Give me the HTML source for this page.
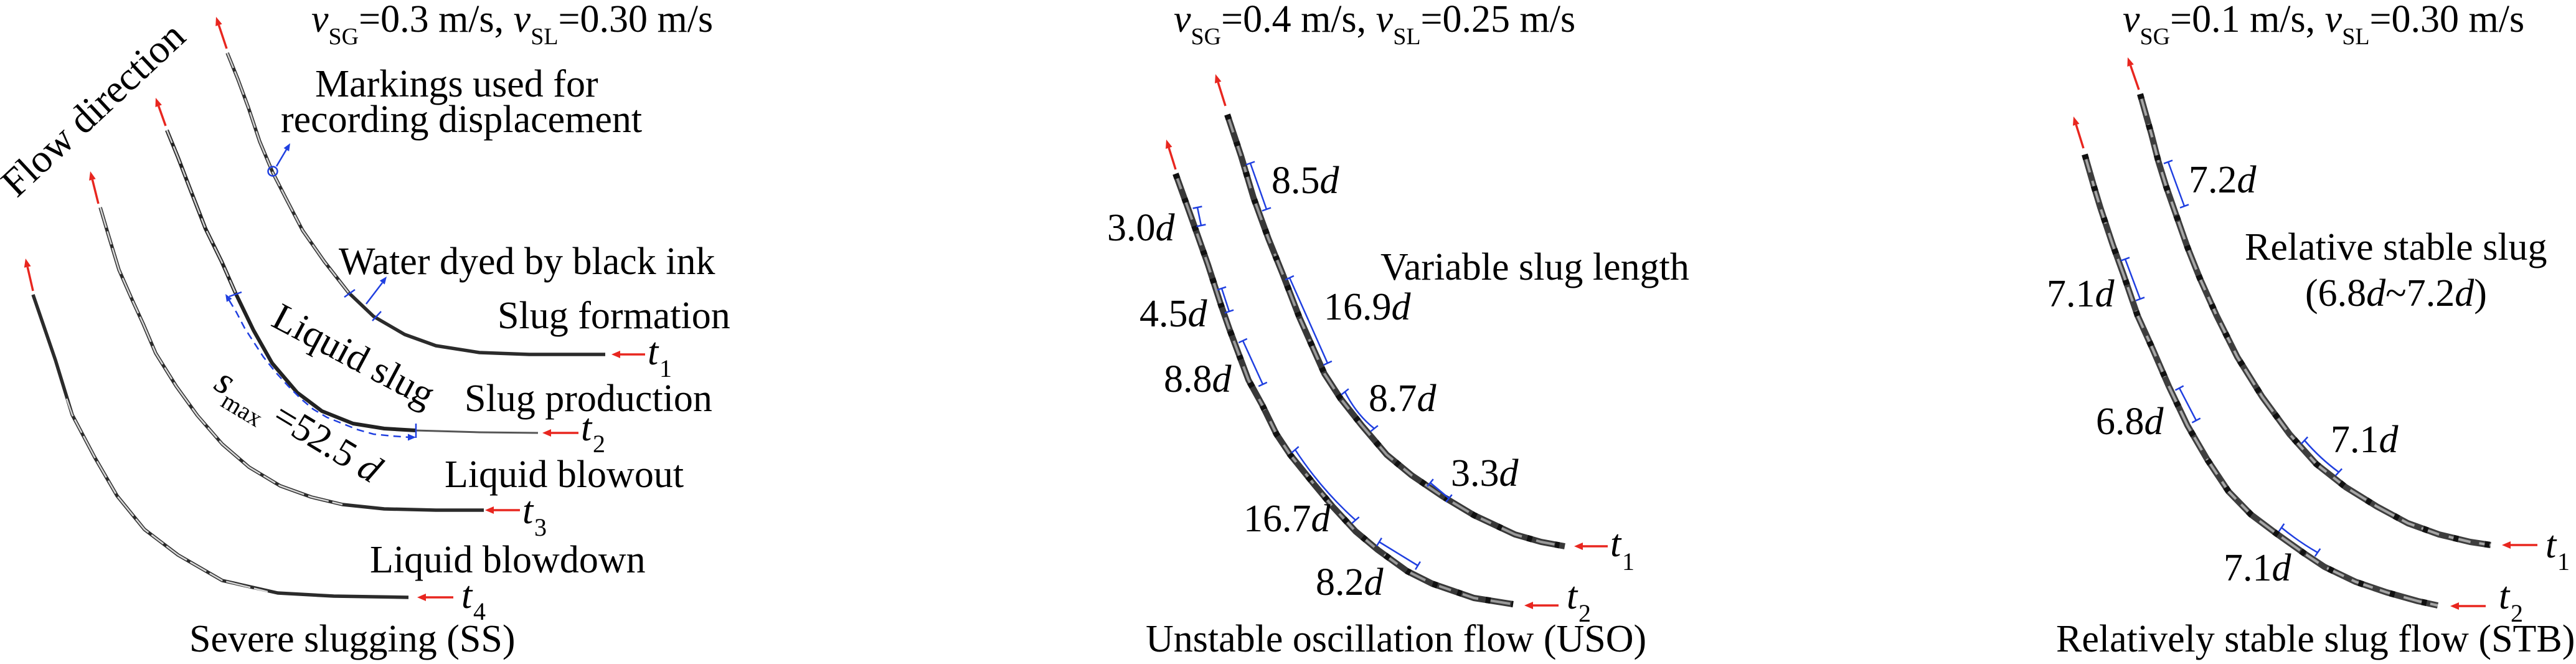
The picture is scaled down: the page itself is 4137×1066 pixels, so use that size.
<!DOCTYPE html>
<html><head><meta charset="utf-8"><style>
html,body{margin:0;padding:0;background:#fff;}
svg{display:block;}
text{font-family:"Liberation Serif","Times New Roman",serif;fill:#000;}
</style></head><body>
<svg width="4137" height="1066" viewBox="0 0 4137 1066" xmlns="http://www.w3.org/2000/svg">
<rect width="4137" height="1066" fill="#fff"/>

<!-- ===================== LEFT PANEL ===================== -->
<g fill="none" stroke-linejoin="round">
  <!-- L1 -->
  <polyline points="365,85 382,127 399,173 417,227 438,277 460,320 486,370 521,420 560,470 600,508 650,537 700,555 770,566 850,569 972,569" stroke="#2b2b2b" stroke-width="5.5"/>
  <polyline points="365,85 382,127 399,173 417,227 438,277 460,320 486,370 521,420 560,470" stroke="#d0d0d0" stroke-width="2.6" stroke-dasharray="26 6 40 6 18 6"/>
  <!-- L2 -->
  <polyline points="268,209 286,253 304,300 330,367 356,420 378,470 407,530 437,583 477,630 517,660 567,680 617,688 667,691" stroke="#222" stroke-width="6"/>
  <polyline points="667,691 770,694 864,695" stroke="#555" stroke-width="3"/>
  <polyline points="268,209 286,253 304,300 330,367 356,420 378,470" stroke="#cfcfcf" stroke-width="2.6" stroke-dasharray="22 6 30 7 16 6"/>
  <!-- L3 -->
  <polyline points="161,333 174,377 191,433 213,483 230,520 250,567 283,620 317,667 357,713 400,750 450,780 500,798 550,810 617,817 700,819 777,819" stroke="#2b2b2b" stroke-width="5.5"/>
  <polyline points="161,333 174,377 191,433 213,483 230,520 250,567 283,620 317,667 357,713 400,750 450,780 500,798 550,810" stroke="#d6d6d6" stroke-width="2.6" stroke-dasharray="34 6 22 6 44 7"/>
  <!-- L4 -->
  <polyline points="53,473 89,578 116,666 152,734 188,796 232,850 286,891 357,932 446,952 536,957 656,959" stroke="#2b2b2b" stroke-width="5.5"/>
  <polyline points="107,640 116,666 152,734 188,796 232,850 286,891 357,932 430,950" stroke="#d4d4d4" stroke-width="2.6" stroke-dasharray="30 6 24 6 40 6"/>
</g>

<!-- left red arrows -->
<g stroke="#e8261f" stroke-width="3.5" fill="none">
  <line x1="364" y1="78" x2="351.4" y2="40.3"/>
  <line x1="266" y1="202" x2="254.7" y2="170.2"/>
  <line x1="158" y1="327" x2="148.4" y2="288.6"/>
  <line x1="53" y1="467" x2="44.2" y2="428.6"/>
  <line x1="996" y1="569" x2="1036" y2="569"/>
  <line x1="885" y1="695" x2="929" y2="695"/>
  <line x1="793" y1="819" x2="835" y2="819"/>
  <line x1="684" y1="959" x2="728" y2="959"/>
</g>
<g fill="#e8261f">
  <polygon points="347,27 356.6,38.6 346.2,42"/>
  <polygon points="250,157 259.9,168.4 249.5,172"/>
  <polygon points="145,275 153.7,287.3 143.1,289.9"/>
  <polygon points="41,415 49.6,427.4 38.8,429.8"/>
  <polygon points="982,569 996,563 996,575"/>
  <polygon points="871,695 885,689 885,701"/>
  <polygon points="779,819 793,813 793,825"/>
  <polygon points="670,959 684,953 684,965"/>
</g>

<!-- left blue annotations -->
<g stroke="#1f3fe0" fill="none" stroke-width="2.5">
  <circle cx="438" cy="275" r="7.5"/>
  <line x1="444" y1="267" x2="460" y2="240"/>
  <line x1="553" y1="477" x2="570" y2="465"/>
  <line x1="598" y1="515" x2="612" y2="500"/>
  <line x1="588" y1="488" x2="614" y2="454"/>
  <line x1="368" y1="476" x2="388" y2="469"/>
  <line x1="668" y1="680" x2="668" y2="703"/>
  <polyline points="368,482 380,502 393,527 408,550 423,573 443,598 463,620 483,640 503,657 525,670 550,680 575,690 600,697 630,700 657,702" stroke-dasharray="12 8"/>
</g>
<g fill="#1f3fe0">
  <polygon points="466,230 464.2,242.9 455.6,237.8"/>
  <polygon points="621,444 617.8,456.6 609.8,450.6"/>
  <polygon points="362,472 372.5,479.6 364,484.8"/>
  <polygon points="668,702 655,696.5 655,707.5"/>
</g>

<!-- left texts -->
<text x="500" y="51" font-size="62"><tspan font-style="italic">v</tspan><tspan font-size="38" dy="20">SG</tspan><tspan dy="-20">=0.3 m/s, </tspan><tspan font-style="italic">v</tspan><tspan font-size="38" dy="20">SL</tspan><tspan dy="-20">=0.30 m/s</tspan></text>
<text transform="translate(164,191) rotate(-43)" text-anchor="middle" font-size="64">Flow direction</text>
<text x="506" y="155" font-size="62">Markings used for</text>
<text x="451" y="212" font-size="62">recording displacement</text>
<text x="544" y="440" font-size="62">Water dyed by black ink</text>
<text x="799" y="527" font-size="62">Slug formation</text>
<text transform="translate(433,522) rotate(28)" font-size="62">Liquid slug</text>
<text transform="translate(341,623) rotate(31)" font-size="62"><tspan font-style="italic">s</tspan><tspan font-size="40" dy="18">max</tspan><tspan dy="-18"> =52.5 </tspan><tspan font-style="italic">d</tspan></text>
<text x="746" y="660" font-size="62">Slug production</text>
<text x="714" y="782" font-size="62">Liquid blowout</text>
<text x="594" y="919" font-size="62">Liquid blowdown</text>
<text x="304" y="1046" font-size="62">Severe slugging (SS)</text>
<text x="1040" y="585" font-size="62" font-style="italic">t</text><text x="1059" y="605" font-size="40">1</text>
<text x="933" y="707" font-size="62" font-style="italic">t</text><text x="952" y="726" font-size="40">2</text>
<text x="839" y="840" font-size="62" font-style="italic">t</text><text x="858" y="860" font-size="40">3</text>
<text x="741" y="976" font-size="62" font-style="italic">t</text><text x="760" y="995" font-size="40">4</text>

<!-- ===================== MIDDLE PANEL ===================== -->
<g fill="none" stroke-linejoin="round">
  <polyline points="1971,184 1993,250 2013,317 2037,383 2060,440 2087,510 2107,555 2127,600 2153,640 2187,683 2227,730 2267,763 2317,797 2367,827 2433,858 2475,870 2513,877" stroke="#383838" stroke-width="10"/>
  <polyline points="1971,184 1993,250 2013,317 2037,383 2060,440 2087,510 2107,555 2127,600 2153,640 2187,683 2227,730 2267,763 2317,797 2367,827 2433,858 2475,870 2513,877" stroke="#9a9a9a" stroke-width="4" stroke-dasharray="30 22 18 18 36 24"/>
  <polyline points="1971,184 1993,250 2013,317 2037,383 2060,440 2087,510 2107,555 2127,600 2153,640 2187,683 2227,730 2267,763 2317,797 2367,827 2433,858 2475,870 2513,877" stroke="#111" stroke-width="10" stroke-dasharray="8 38 7 44"/>

  <polyline points="1888,279 1915,354 1940,425 1961,490 1975,530 1990,570 2005,610 2027,650 2050,697 2072,730 2110,777 2140,813 2177,853 2213,883 2260,917 2300,937 2367,960 2430,970" stroke="#383838" stroke-width="10"/>
  <polyline points="1888,279 1915,354 1940,425 1961,490 1975,530 1990,570 2005,610 2027,650 2050,697 2072,730 2110,777 2140,813 2177,853 2213,883 2260,917 2300,937 2367,960 2430,970" stroke="#9a9a9a" stroke-width="4" stroke-dasharray="26 18 34 24 20 20"/>
  <polyline points="1888,279 1915,354 1940,425 1961,490 1975,530 1990,570 2005,610 2027,650 2050,697 2072,730 2110,777 2140,813 2177,853 2213,883 2260,917 2300,937 2367,960 2430,970" stroke="#111" stroke-width="10" stroke-dasharray="8 34 7 40"/>
</g>
<g stroke="#e8261f" stroke-width="3.5" fill="none">
  <line x1="1968" y1="170" x2="1956.2" y2="132.3"/>
  <line x1="1888" y1="272" x2="1877.2" y2="237.4"/>
  <line x1="2542" y1="877" x2="2582" y2="877"/>
  <line x1="2462" y1="972" x2="2503" y2="972"/>
</g>
<g fill="#e8261f">
  <polygon points="1952,119 1961.4,130.7 1951,133.9"/>
  <polygon points="1873,224 1882.4,235.8 1872,239"/>
  <polygon points="2528,877 2542,871 2542,883"/>
  <polygon points="2448,972 2462,966 2462,978"/>
</g>
<g stroke="#1f3fe0" fill="none" stroke-width="2.5">
  <line x1="2008" y1="262" x2="2034" y2="336"/><line x1="2000.9" y1="264.5" x2="2015.1" y2="259.5"/><line x1="2026.9" y1="338.5" x2="2041.1" y2="333.5"/>
  <line x1="1923" y1="333" x2="1929" y2="362"/><line x1="1915.6" y1="334.5" x2="1930.4" y2="331.5"/><line x1="1921.6" y1="363.5" x2="1936.4" y2="360.5"/>
  <line x1="1962" y1="463" x2="1974" y2="500"/><line x1="1954.9" y1="465.3" x2="1969.1" y2="460.7"/><line x1="1966.9" y1="502.3" x2="1981.1" y2="497.7"/>
  <line x1="2071" y1="446" x2="2132" y2="583"/><line x1="2064.2" y1="449.1" x2="2077.9" y2="442.9"/><line x1="2125.2" y1="586.1" x2="2138.9" y2="579.9"/>
  <line x1="1996" y1="547" x2="2028" y2="617"/><line x1="1989.2" y1="550.1" x2="2002.8" y2="543.9"/><line x1="2021.2" y1="620.1" x2="2034.8" y2="613.9"/>
  <path d="M2160,629 Q2178,665 2207,688"/><line x1="2154.1" y1="633.7" x2="2165.9" y2="624.3"/><line x1="2201.1" y1="692.7" x2="2212.9" y2="683.3"/>
  <line x1="2297" y1="775" x2="2327" y2="800"/><line x1="2292.2" y1="780.8" x2="2301.8" y2="769.2"/><line x1="2322.2" y1="805.8" x2="2331.8" y2="794.2"/>
  <path d="M2080,722 Q2122,786 2177,835"/><line x1="2074.3" y1="726.9" x2="2085.7" y2="717.1"/><line x1="2171.3" y1="839.9" x2="2182.7" y2="830.1"/>
  <line x1="2215" y1="870" x2="2277" y2="908"/><line x1="2211.1" y1="876.4" x2="2218.9" y2="863.6"/><line x1="2273.1" y1="914.4" x2="2280.9" y2="901.6"/>
</g>
<text x="1885" y="51" font-size="62"><tspan font-style="italic">v</tspan><tspan font-size="38" dy="20">SG</tspan><tspan dy="-20">=0.4 m/s, </tspan><tspan font-style="italic">v</tspan><tspan font-size="38" dy="20">SL</tspan><tspan dy="-20">=0.25 m/s</tspan></text>
<g font-size="62">
<text x="2042" y="310">8.5<tspan font-style="italic">d</tspan></text>
<text x="1778" y="386">3.0<tspan font-style="italic">d</tspan></text>
<text x="2217" y="449">Variable slug length</text>
<text x="2126" y="513">16.9<tspan font-style="italic">d</tspan></text>
<text x="1830" y="524">4.5<tspan font-style="italic">d</tspan></text>
<text x="1869" y="629">8.8<tspan font-style="italic">d</tspan></text>
<text x="2198" y="660">8.7<tspan font-style="italic">d</tspan></text>
<text x="2330" y="780">3.3<tspan font-style="italic">d</tspan></text>
<text x="1997" y="853">16.7<tspan font-style="italic">d</tspan></text>
<text x="2113" y="955">8.2<tspan font-style="italic">d</tspan></text>
<text x="1840" y="1046">Unstable oscillation flow (USO)</text>
</g>
<text x="2586" y="893" font-size="62" font-style="italic">t</text><text x="2605" y="915" font-size="40">1</text>
<text x="2516" y="977" font-size="62" font-style="italic">t</text><text x="2535" y="998" font-size="40">2</text>

<!-- ===================== RIGHT PANEL ===================== -->
<g fill="none" stroke-linejoin="round">
  <polyline points="3437,151 3455,215 3466,258 3479,300 3493,340 3513,397 3533,447 3560,507 3593,573 3633,637 3677,697 3720,745 3767,782 3817,813 3867,840 3917,858 3967,870 4000,875" stroke="#3e3e3e" stroke-width="10"/>
  <polyline points="3437,151 3455,215 3466,258 3479,300 3493,340 3513,397 3533,447 3560,507 3593,573 3633,637 3677,697 3720,745 3767,782 3817,813 3867,840 3917,858 3967,870 4000,875" stroke="#a6a6a6" stroke-width="4" stroke-dasharray="36 14 22 12 30 16"/>
  <polyline points="3437,151 3455,215 3466,258 3479,300 3493,340 3513,397 3533,447 3560,507 3593,573 3633,637 3677,697 3720,745 3767,782 3817,813 3867,840 3917,858 3967,870 4000,875" stroke="#111" stroke-width="10" stroke-dasharray="8 43"/>

  <polyline points="3348,248 3363,300 3373,333 3393,393 3410,440 3433,507 3457,560 3483,620 3513,683 3545,738 3579,789 3615,826 3655,856 3700,888 3733,910 3783,934 3833,951 3883,965 3915,972" stroke="#3e3e3e" stroke-width="10"/>
  <polyline points="3348,248 3363,300 3373,333 3393,393 3410,440 3433,507 3457,560 3483,620 3513,683 3545,738 3579,789 3615,826 3655,856 3700,888 3733,910 3783,934 3833,951 3883,965 3915,972" stroke="#a6a6a6" stroke-width="4" stroke-dasharray="30 14 36 12 24 16"/>
  <polyline points="3348,248 3363,300 3373,333 3393,393 3410,440 3433,507 3457,560 3483,620 3513,683 3545,738 3579,789 3615,826 3655,856 3700,888 3733,910 3783,934 3833,951 3883,965 3915,972" stroke="#111" stroke-width="10" stroke-dasharray="8 45"/>
</g>
<g stroke="#e8261f" stroke-width="3.5" fill="none">
  <line x1="3435" y1="144" x2="3421.6" y2="105.2"/>
  <line x1="3346" y1="238" x2="3334.2" y2="200.3"/>
  <line x1="4032" y1="875" x2="4075" y2="875"/>
  <line x1="3949" y1="973" x2="3992" y2="973"/>
</g>
<g fill="#e8261f">
  <polygon points="3417,92 3426.8,103.4 3416.4,107"/>
  <polygon points="3330,187 3339.4,198.7 3329,201.9"/>
  <polygon points="4018,875 4032,869 4032,881"/>
  <polygon points="3935,973 3949,967 3949,979"/>
</g>
<g stroke="#1f3fe0" fill="none" stroke-width="2.5">
  <line x1="3482" y1="260" x2="3508" y2="331"/><line x1="3475" y1="262.6" x2="3489" y2="257.4"/><line x1="3501" y1="333.6" x2="3515" y2="328.4"/>
  <line x1="3413" y1="416" x2="3437" y2="480"/><line x1="3406" y1="418.6" x2="3420" y2="413.4"/><line x1="3430" y1="482.6" x2="3444" y2="477.4"/>
  <line x1="3500" y1="623" x2="3527" y2="675"/><line x1="3493.4" y1="626.5" x2="3506.7" y2="619.5"/><line x1="3520.4" y1="678.5" x2="3533.7" y2="671.5"/>
  <path d="M3701,707 Q3726,736 3756,758"/><line x1="3695.9" y1="712.5" x2="3706.1" y2="701.5"/><line x1="3750.9" y1="763.5" x2="3761.1" y2="752.5"/>
  <path d="M3664,847 Q3692,870 3722,887"/><line x1="3659.8" y1="853.2" x2="3668.3" y2="840.8"/><line x1="3717.8" y1="893.2" x2="3726.3" y2="880.8"/>
</g>
<text x="3409" y="51" font-size="62"><tspan font-style="italic">v</tspan><tspan font-size="38" dy="20">SG</tspan><tspan dy="-20">=0.1 m/s, </tspan><tspan font-style="italic">v</tspan><tspan font-size="38" dy="20">SL</tspan><tspan dy="-20">=0.30 m/s</tspan></text>
<g font-size="62">
<text x="3515" y="309">7.2<tspan font-style="italic">d</tspan></text>
<text x="3605" y="417">Relative stable slug</text>
<text x="3702" y="491">(6.8<tspan font-style="italic">d</tspan>~7.2<tspan font-style="italic">d</tspan>)</text>
<text x="3287" y="492">7.1<tspan font-style="italic">d</tspan></text>
<text x="3366" y="697">6.8<tspan font-style="italic">d</tspan></text>
<text x="3743" y="726">7.1<tspan font-style="italic">d</tspan></text>
<text x="3571" y="932">7.1<tspan font-style="italic">d</tspan></text>
<text x="3302" y="1046">Relatively stable slug flow (STB)</text>
</g>
<text x="4088" y="895" font-size="62" font-style="italic">t</text><text x="4107" y="915" font-size="40">1</text>
<text x="4013" y="977" font-size="62" font-style="italic">t</text><text x="4032" y="998" font-size="40">2</text>
</svg>
</body></html>
